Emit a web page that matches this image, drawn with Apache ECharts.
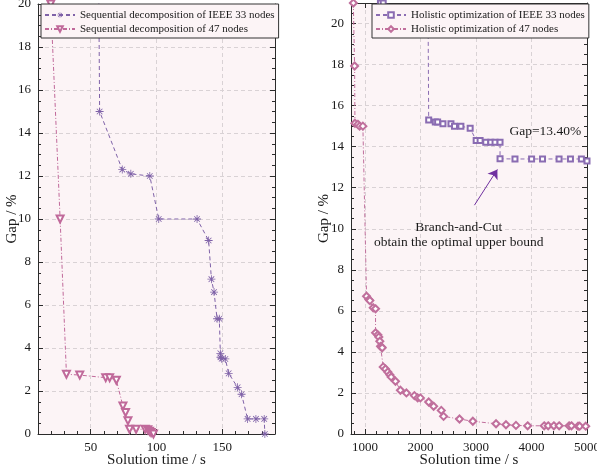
<!DOCTYPE html>
<html>
<head>
<meta charset="utf-8">
<script src="https://cdn.jsdelivr.net/npm/echarts@6/dist/echarts.min.js"></script>
<style>
html, body { margin: 0; padding: 0; background: #fff; }
#main { width: 597px; height: 471px; }
</style>
</head>
<body>
<div id="main"></div>
<script>
// 数据: 左图 顺序分解
var seqIeeeTime = [56, 56.8, 74.0, 80.5, 94.9, 101.7, 130.8, 139.6, 141.7, 143.7, 146.0, 147.7, 148.5, 148.6, 149.5, 152.3, 154.8, 161.6, 164.6, 169.2, 175.5, 181.8, 182.3];
var seqIeeeGap  = [22, 15.0, 12.3, 12.1, 12.0, 10.0, 10.0, 9.0, 7.2, 6.6, 5.36, 5.36, 3.75, 3.57, 3.5, 3.49, 2.82, 2.17, 1.85, 0.70, 0.70, 0.70, 0.0];
var seq47Time = [19.7, 26.8, 31.6, 41.7, 61.4, 64.4, 69.5, 74.5, 76.5, 78.3, 79.5, 84.5, 91.4, 93.4, 94.7, 95.9, 97.7];
var seq47Gap  = [20.0, 10.0, 2.78, 2.74, 2.62, 2.62, 2.5, 1.3, 1.0, 0.62, 0.22, 0.22, 0.22, 0.2, 0.13, 0.07, 0.0];

// 数据: 右图 整体优化
var holIeeeTime = [1280, 1330, 2130, 2140, 2149, 2268, 2310, 2406, 2550, 2614, 2729, 2896, 3004, 3075, 3177, 3267, 3344, 3434, 3434, 3703, 4002, 4199, 4497, 4702, 4899, 5000];
var holIeeeGap  = [21.0, 21.0, 20.5, 19.48, 15.3, 15.2, 15.2, 15.12, 15.12, 15.0, 15.0, 14.9, 14.3, 14.3, 14.22, 14.22, 14.22, 14.22, 13.41, 13.4, 13.4, 13.4, 13.4, 13.4, 13.4, 13.3];
var hol47Time = [792, 815, 821, 874, 905, 964, 1030, 1072, 1090, 1150, 1192, 1192, 1233, 1251, 1269, 1282, 1300, 1312, 1330, 1371, 1413, 1449, 1473, 1551, 1640, 1748, 1892, 1951, 2000, 2149, 2238, 2376, 2417, 2704, 2944, 3362, 3541, 3721, 3931, 4229, 4301, 4403, 4498, 4677, 4720, 4839, 4868, 4977];
var hol47Gap  = [21.0, 17.93, 15.14, 15.09, 15.0, 15.0, 6.71, 6.55, 6.5, 6.15, 6.1, 4.93, 4.83, 4.73, 4.52, 4.27, 4.24, 4.2, 3.27, 3.17, 3.02, 2.89, 2.78, 2.57, 2.13, 2.0, 1.87, 1.76, 1.76, 1.56, 1.35, 1.15, 0.86, 0.73, 0.62, 0.5, 0.45, 0.42, 0.4, 0.4, 0.4, 0.4, 0.4, 0.4, 0.4, 0.38, 0.38, 0.38];

// 刻度
var leftXMajor = [50, 100, 150];
var leftXMinor = [20, 30, 40, 60, 70, 80, 90, 110, 120, 130, 140, 160, 170, 180];
var leftYMajor = [0, 2, 4, 6, 8, 10, 12, 14, 16, 18, 20];
var leftYMinor = [0.5, 1, 1.5, 2.5, 3, 3.5, 4.5, 5, 5.5, 6.5, 7, 7.5, 8.5, 9, 9.5, 10.5, 11, 11.5, 12.5, 13, 13.5, 14.5, 15, 15.5, 16.5, 17, 17.5, 18.5, 19, 19.5];
var rightXMajor = [1000, 2000, 3000, 4000, 5000];
var rightXMinor = [800, 1200, 1400, 1600, 1800, 2200, 2400, 2600, 2800, 3200, 3400, 3600, 3800, 4200, 4400, 4600, 4800];
var rightYMajor = [0, 2, 4, 6, 8, 10, 12, 14, 16, 18, 20];
var rightYMinor = leftYMinor.concat([20.5]);

var names = [
    'Sequential decomposition of IEEE 33 nodes',
    'Sequential decomposition of 47 nodes',
    'Holistic optimization of IEEE 33 nodes',
    'Holistic optimization of 47 nodes'
];

var font = "'Liberation Serif', 'Times New Roman', serif";
var tickColor = '#2b2b2b';
var plotBg = '#fcf4f6';

function zip(xs, ys) {
    var out = [];
    for (var i = 0; i < xs.length; i++) out.push([xs[i], ys[i]]);
    return out;
}

// 一个方向上的主刻度轴 + 次刻度轴
function makeAxes(grid, pos, min, max, split, majors, minors, main, name, nameGap) {
    var major = {
        type: 'value', gridIndex: grid, position: pos, min: min, max: max, splitNumber: split,
        axisLine: { show: true, onZero: false, lineStyle: { color: tickColor, width: 1 } },
        axisTick: { show: true, inside: true, length: 5, customValues: majors, lineStyle: { color: tickColor } },
        axisLabel: { show: main, customValues: majors, fontFamily: font, fontSize: 13, color: '#1a1a1a', margin: 7,
            formatter: function (v) { return String(v); } },
        splitLine: { show: main, lineStyle: { type: [4, 3], color: '#d9d2d5', width: 1 } }
    };
    if (main) {
        major.name = name;
        major.nameLocation = 'middle';
        major.nameGap = nameGap;
        major.nameMoveOverlap = false;
        major.nameTextStyle = { fontFamily: font, fontSize: 15, color: '#1a1a1a' };
    }
    var minor = {
        type: 'value', gridIndex: grid, position: pos, min: min, max: max, splitNumber: split,
        axisLine: { show: false, onZero: false },
        axisTick: { show: true, inside: true, length: 3, customValues: minors, lineStyle: { color: tickColor } },
        axisLabel: { show: false },
        splitLine: { show: false }
    };
    return [major, minor];
}

var xAxes = [].concat(
    makeAxes(0, 'bottom', 10, 190, 4, leftXMajor, leftXMinor, true, 'Solution time / s', 19),
    makeAxes(0, 'top', 10, 190, 4, leftXMajor, leftXMinor, false),
    makeAxes(1, 'bottom', 750, 5000, 4, rightXMajor, rightXMinor, true, 'Solution time / s', 19),
    makeAxes(1, 'top', 750, 5000, 4, rightXMajor, rightXMinor, false)
);
var yAxes = [].concat(
    makeAxes(0, 'left', 0, 20, 10, leftYMajor, leftYMinor, true, 'Gap / %', 18),
    makeAxes(0, 'right', 0, 20, 10, leftYMajor, leftYMinor, false),
    makeAxes(1, 'left', 0, 21, 10, rightYMajor, rightYMinor, true, 'Gap / %', 19),
    makeAxes(1, 'right', 0, 21, 10, rightYMajor, rightYMinor, false)
);

// 星号符号
var asterisk = 'path://M9,0L11,0L11,20L9,20Z M0,9L20,9L20,11L0,11Z M3.7,2.3L17.7,16.3L16.3,17.7L2.3,3.7Z M16.3,2.3L17.7,3.7L3.7,17.7L2.3,16.3Z';

var purple = '#7f62a8';
var pink = '#c0699a';
var purple2 = '#8a6cb2';
var pink2 = '#c06f9c';
var arrowColor = '#7030a0';

var legendBase = {
    orient: 'vertical', top: 4, itemGap: 2, itemWidth: 30, itemHeight: 7,
    padding: [5, 4, 3, 3], borderColor: '#333', borderWidth: 1, borderRadius: 0,
    backgroundColor: plotBg,
    textStyle: { fontFamily: font, fontSize: 11, lineHeight: 12, color: '#1a1a1a' }
};

var option = {
    animation: false,
    backgroundColor: '#fff',
    grid: [
        { left: 38, top: 4, width: 237, height: 430, show: true, backgroundColor: plotBg, borderWidth: 0,
          containLabel: false, outerBoundsMode: 'none' },
        { left: 351, top: 3, width: 236, height: 431, show: true, backgroundColor: plotBg, borderWidth: 0,
          containLabel: false, outerBoundsMode: 'none' }
    ],
    legend: [
        Object.assign({}, legendBase, { left: 41, data: [names[0], names[1]] }),
        Object.assign({}, legendBase, { left: 372, data: [names[2], names[3]] })
    ],
    xAxis: xAxes,
    yAxis: yAxes,
    series: [
        {
            name: names[0], type: 'line', xAxisIndex: 0, yAxisIndex: 0,
            data: zip(seqIeeeTime, seqIeeeGap),
            symbol: asterisk, symbolSize: 8,
            itemStyle: { color: purple },
            lineStyle: { color: purple, width: 1, type: [4, 3] }
        },
        {
            name: names[1], type: 'line', xAxisIndex: 0, yAxisIndex: 0,
            data: zip(seq47Time, seq47Gap),
            symbol: 'emptyTriangle', symbolRotate: 180, symbolSize: 7,
            itemStyle: { color: pink, borderWidth: 1 },
            lineStyle: { color: pink, width: 1, type: [4, 2, 1, 2] }
        },
        {
            name: names[2], type: 'line', xAxisIndex: 4, yAxisIndex: 4,
            data: zip(holIeeeTime, holIeeeGap),
            symbol: 'emptyRect', symbolSize: 5,
            itemStyle: { color: purple2, borderWidth: 1 },
            lineStyle: { color: purple2, width: 1, type: [4, 3] },
            markLine: {
                silent: true, symbol: ['none', 'arrow'], symbolSize: 9,
                label: { show: false },
                lineStyle: { color: arrowColor, width: 1, type: 'solid' },
                data: [[{ coord: [2973, 11.15] }, { coord: [3386, 12.89] }]]
            },
            markPoint: {
                silent: true, symbol: 'circle', symbolSize: 1,
                itemStyle: { color: 'rgba(0,0,0,0)' },
                label: { show: true, position: 'inside', formatter: '{b}', fontFamily: font, fontSize: 13.5, color: '#1a1a1a', lineHeight: 15 },
                data: [
                    { name: 'Gap=13.40%', coord: [4250, 14.75] },
                    { name: 'Branch-and-Cut\nobtain the optimal upper bound', coord: [2690, 9.72] }
                ]
            }
        },
        {
            name: names[3], type: 'line', xAxisIndex: 4, yAxisIndex: 4,
            data: zip(hol47Time, hol47Gap),
            symbol: 'emptyDiamond', symbolSize: 7,
            itemStyle: { color: pink2, borderWidth: 1 },
            lineStyle: { color: pink2, width: 1, type: [4, 2, 1, 2] }
        }
    ]
};

var chart = echarts.init(document.getElementById('main'));
chart.setOption(option);
</script>
</body>
</html>
